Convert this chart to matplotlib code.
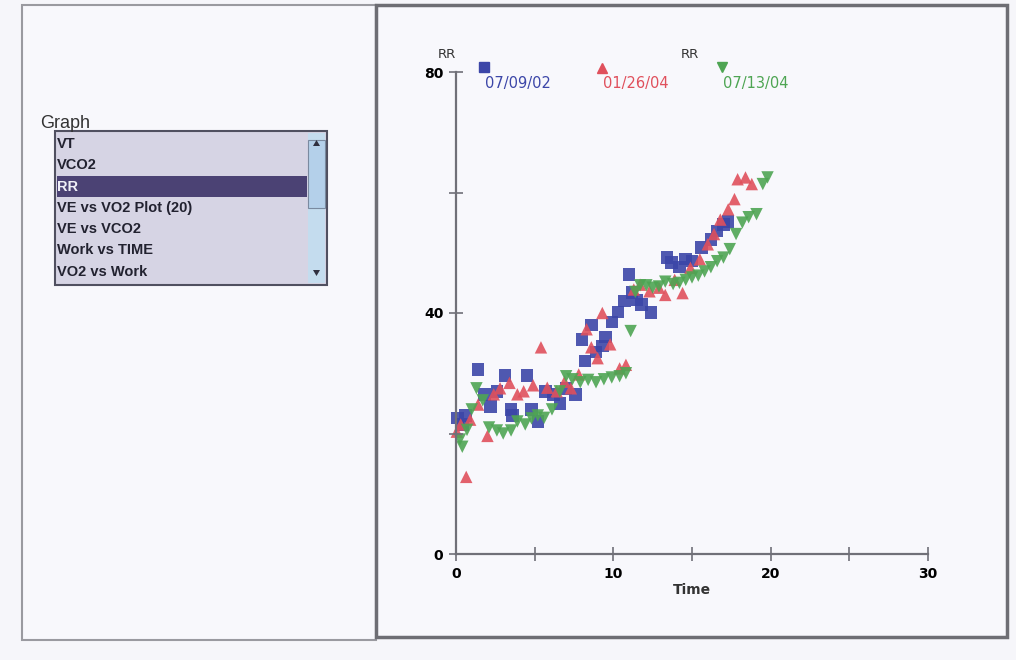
"""RR vs Time scatter, three test dates, with the graph-picker panel on the left"""

import matplotlib.pyplot as plt
from matplotlib.patches import Rectangle, Polygon

# Series (Time in min, RR in breaths/min)
blue_x = [0.1, 0.4, 0.6, 1.4, 1.8, 2.2, 2.6, 3.1, 3.5, 3.6, 4.5, 4.8, 5.2, 5.7, 6.2, 6.6, 7.0, 7.6,
          8.0, 8.2, 8.6, 8.9, 9.3, 9.5, 9.9, 10.3, 10.7, 11.0, 11.2, 11.5, 11.8, 12.4, 13.4, 13.7,
          14.2, 14.6, 15.0, 15.6, 16.2, 16.6, 17.0, 17.3]
blue_y = [22.6, 21.5, 23.0, 30.6, 26.5, 24.5, 27.0, 29.6, 24.0, 23.0, 29.6, 24.0, 22.0, 27.0, 26.5,
          25.0, 27.5, 26.5, 35.6, 32.0, 38.0, 33.5, 34.5, 36.0, 38.5, 40.2, 42.0, 46.4, 43.4, 42.2,
          41.4, 40.1, 49.2, 48.4, 47.6, 49.0, 48.6, 50.9, 52.2, 53.6, 54.7, 55.2]

red_x = [0.05, 0.3, 0.65, 0.9, 1.4, 2.0, 2.4, 2.8, 3.4, 3.9, 4.3, 4.9, 5.4, 5.8, 6.4, 6.9, 7.3, 7.8,
         8.3, 8.6, 9.0, 9.3, 9.8, 10.4, 10.8, 11.3, 11.7, 12.3, 12.9, 13.3, 13.9, 14.4, 14.9, 15.5,
         16.0, 16.4, 16.8, 17.3, 17.7, 17.9, 18.4, 18.8]
red_y = [20.3, 21.5, 12.8, 22.3, 24.8, 19.6, 26.5, 27.5, 28.4, 26.5, 27.0, 28.0, 34.3, 27.6, 27.0,
         28.6, 27.5, 29.8, 37.3, 34.3, 32.5, 40.0, 34.8, 30.8, 31.4, 43.9, 44.7, 43.6, 44.2, 43.0,
         45.5, 43.3, 47.5, 48.9, 51.4, 53.1, 55.5, 57.2, 58.9, 62.2, 62.5, 61.4]

green_x = [0.25, 0.4, 0.7, 1.0, 1.3, 1.7, 2.1, 2.6, 3.0, 3.5, 3.9, 4.4, 4.8, 5.2, 5.6, 6.1, 6.6,
           7.0, 7.4, 7.9, 8.4, 8.9, 9.4, 9.9, 10.4, 10.8, 11.1, 11.4, 11.7, 12.1, 12.5, 12.9, 13.3,
           13.8, 14.2, 14.6, 15.0, 15.4, 15.8, 16.2, 16.6, 17.0, 17.4, 17.8, 18.2, 18.6, 19.1, 19.5,
           19.8]
green_y = [19.0, 17.8, 20.6, 24.0, 27.5, 25.5, 21.0, 20.5, 20.0, 20.5, 22.0, 21.5, 22.5, 23.0, 22.6,
           24.0, 27.0, 29.5, 29.0, 28.5, 28.9, 28.5, 29.0, 29.3, 29.5, 30.0, 37.0, 43.5, 44.6, 44.6,
           44.2, 44.4, 45.2, 44.8, 45.0, 45.5, 45.9, 46.2, 46.9, 47.6, 48.6, 49.2, 50.6, 53.1, 55.0,
           55.9, 56.4, 61.4, 62.5]

dates = ['07/09/02', '01/26/04', '07/13/04']
graph_items = ['VT', 'VCO2', 'RR', 'VE vs VO2 Plot (20)', 'VE vs VCO2', 'Work vs TIME', 'VO2 vs Work']
selected_item = 'RR'

x_ticks = [0, 5, 10, 15, 20, 25, 30]
x_labels = ['0', '', '10', '', '20', '', '30']
y_ticks = [0, 20, 40, 60, 80]
y_labels = ['0', '', '40', '', '80']

colors = ['#3c46a8', '#e0505c', '#4ea553']
markers = ['s', '^', 'v']

W, H = 1016, 660
fig = plt.figure(figsize=(W / 100, H / 100), dpi=100)
fig.patch.set_facecolor('#f6f6fa')


def px(x, y):
    # screenshot pixel -> figure fraction
    return x / W, 1 - y / H


def box(x0, y0, x1, y1, z=1, **kw):
    fx, fy = px(x0, y1)
    fig.add_artist(Rectangle((fx, fy), (x1 - x0) / W, (y1 - y0) / H,
                             transform=fig.transFigure, zorder=z, **kw))


# panels (kept below the axes)
box(22, 5, 376, 640, z=-10, facecolor='#f8f8fc', edgecolor='#9a9aa0', lw=1.5)
box(376, 5, 1007, 637, z=-10, facecolor='#f8f8fc', edgecolor='#6e6e74', lw=2.5)

# list box on the left
fig.text(*px(40, 128), 'Graph', fontsize=13, color='#333333', family='Liberation Sans')
box(55, 131, 327, 285, facecolor='#d6d4e4', edgecolor='#505060', lw=1.5)
box(308, 133, 325, 283, facecolor='#c4dcee', edgecolor='none')
box(308, 140, 325, 208, facecolor='#b4d0ea', edgecolor='#7a8aa0', lw=0.8)
for pts in ([(313, 146), (320, 146), (316.5, 140)], [(313, 270), (320, 270), (316.5, 276)]):
    fig.add_artist(Polygon([px(*p) for p in pts], closed=True, transform=fig.transFigure,
                           facecolor='#303040', edgecolor='none', zorder=2))
for i, item in enumerate(graph_items):
    yc = 143 + i * 21.3
    if item == selected_item:
        box(57, yc - 10, 307, yc + 11, z=2, facecolor='#4b4274', edgecolor='none')
    fig.text(*px(57, yc + 1), item, fontsize=10.5, fontweight='bold', va='center', zorder=3,
             color='#f0f0f8' if item == selected_item else '#222230', family='Liberation Sans')

# chart
ax = fig.add_axes([456 / W, 1 - 554 / H, (928 - 456) / W, (554 - 72) / H])
ax.set_facecolor('none')
ax.set_xlim(0, 30)
ax.set_ylim(0, 80)
for side in ['top', 'right']:
    ax.spines[side].set_visible(False)
for side in ['left', 'bottom']:
    ax.spines[side].set_color('#707078')
    ax.spines[side].set_linewidth(1.6)
ax.set_xticks(x_ticks)
ax.set_xticklabels(x_labels)
ax.set_yticks(y_ticks)
ax.set_yticklabels(y_labels)
ax.tick_params(direction='inout', length=10, width=1.2, color='#707078', pad=4)
for lab in ax.get_xticklabels() + ax.get_yticklabels():
    lab.set_fontfamily('DejaVu Sans')
    lab.set_fontweight('bold')
    lab.set_fontsize(10)
ax.set_xlabel('Time', fontsize=10, fontweight='bold', family='DejaVu Sans',
              color='#333333', labelpad=2)

series = [(blue_x, blue_y), (red_x, red_y), (green_x, green_y)]
for (xs, ys), c, m in zip(series, colors, markers):
    ax.scatter(xs, ys, marker=m, s=80, color=c, edgecolors='none', alpha=0.9, clip_on=False)

# header / legend above the plot
fig.text(*px(447, 58), 'RR', fontsize=9.5, family='DejaVu Sans', color='#333333', ha='center')
fig.text(*px(690, 58), 'RR', fontsize=9.5, family='DejaVu Sans', color='#333333', ha='center')
for (lx, ly), c, m, d in zip([(484, 67), (602, 68), (722, 67)], colors, markers, dates):
    fig.add_artist(plt.Line2D([lx / W], [1 - ly / H], marker=m, ms=7, color=c,
                              transform=fig.transFigure))
    fig.text(*px(lx + 1, 88), d, fontsize=10.5, family='DejaVu Sans', color=c)

fig.savefig('out.png', dpi=100, facecolor=fig.get_facecolor())
